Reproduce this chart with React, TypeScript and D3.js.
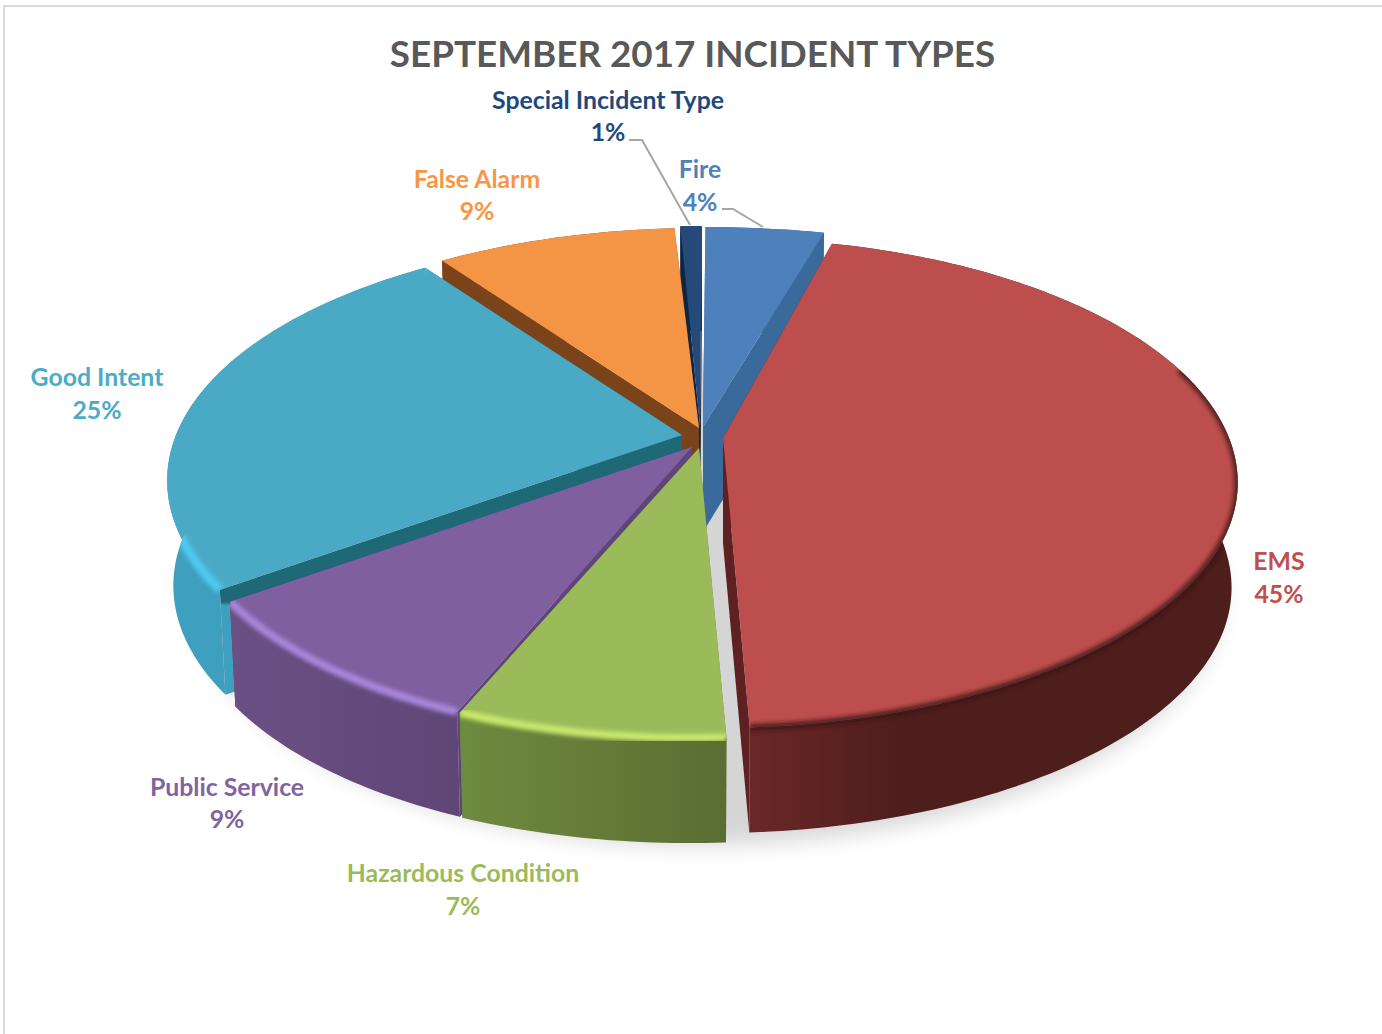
import React, { useMemo } from "react";
import * as d3 from "d3";

// Incident counts, as percentages, clockwise from twelve o'clock.
const categories = ["Fire", "EMS", "Hazardous Condition", "Public Service", "Good Intent", "False Alarm", "Special Incident Type"];
const shares = [4, 45, 7, 9, 25, 9, 1];
const titleText = "SEPTEMBER 2017 INCIDENT TYPES";

// Slice palette.
const labelColors = ["#4f81bd", "#c0504d", "#9bbb59", "#8064a2", "#4bacc6", "#f79646", "#1f497d"];
const topColors = ["#4e80bb", "#bc4f4d", "#9bba5a", "#7f5f9f", "#4aaac6", "#f49546", "#254a7a"];
const wallColors = ["#3a6a9b", "#5f2021", "#6b8540", "#5f4679", "#1f6878", "#7a431a", "#0f2540"];
const rimLeft = ["#3a6a9b", "#6b2727", "#6f8b3e", "#6a5084", "#3f9fbe", "#7a431a", "#0f2540"];
const rimRight = ["#3a6a9b", "#4e1e1d", "#5a6d33", "#5f4677", "#3f9fbe", "#7a431a", "#0f2540"];

// Screen-space explosion of each slice away from the pie's centre.
const offsets: [number, number][] = [[5, -9], [25, 2], [1, 12], [-6, 11], [-16, -1], [1, -8], [2, -10]];
// Horizontal widening of a slice about its own apex.
const widths = [1.11, 1, 1.02, 1, 1, 1, 0.8];

// Soft edge along the front of each top face: colour, start angle in degrees, stroke width, opacity.
const bevels: ([string, number, number, number] | null)[] = [
  null,
  ["#3a1413", 72, 7, 0.8],
  ["#c8e86e", 0, 8, 1],
  ["#a886da", 0, 8, 1],
  ["#4fc8f0", 0, 9, 1],
  null,
  null,
];

// Label placement: text centre and the two baselines.
const labelPlaces: [number, number, number][] = [
  [700, 178, 211],
  [1279, 570, 603],
  [463, 882, 915],
  [227, 796, 828],
  [97, 386, 419],
  [477, 188, 220],
  [608, 109, 141],
];

// Leader lines for the two slices whose labels sit away from them.
const leaders: [number, [number, number][]][] = [
  [0, [[722, 209], [733, 209], [763, 227]]],
  [6, [[629, 140], [642, 140], [690, 225]]],
];

const CX = 698;
const CY = 436;
const RX = 506;
const RY = 236.7;
const TILT = 0.184;
const DEPTH = 105;
const TURN = 0.3 * (Math.PI / 180);
const FRONT_LEAN = 9;
const GOOD_INTENT = 4;
const FONT = "Lato, 'Open Sans', sans-serif";

// Paint order runs from the back of the pie to the front.
const paintOrder = [6, 0, 5, 4, 3, 2, 1];

type Pt = [number, number];

function project(a: number, r: number, z: number, off: Pt, widen = 1): Pt {
  const u = r * Math.sin(a + TURN);
  const v = -r * Math.cos(a + TURN);
  const w = 1 - TILT * v;
  const squeeze = 1 - 0.012 * z;
  const lean = FRONT_LEAN * Math.pow(Math.max(v, 0), 3);
  return [CX + off[0] + (RX * u * squeeze * widen) / w - lean, CY + off[1] + (RY * v) / w + DEPTH * z];
}

function arcPoints(a0: number, a1: number, r: number, z: number, off: Pt, widen = 1): Pt[] {
  const n = Math.max(2, Math.ceil(((a1 - a0) * 180) / Math.PI));
  return d3.range(n + 1).map((i) => project(a0 + ((a1 - a0) * i) / n, r, z, off, widen));
}

const line = d3.line<Pt>();
const closed = (pts: Pt[]) => line(pts) + "Z";

export default function App() {
  const arcs = useMemo(() => d3.pie<number>().sort(null)(shares), []);
  const full = d3.range(0, 361, 3).map((d) => (d * Math.PI) / 180);
  const shadow = closed(full.map((a) => project(a, 1.005, 1, [12, 12])));
  const goodCorner = project(arcs[GOOD_INTENT].startAngle, 1, 0, offsets[GOOD_INTENT]);

  return (
    <svg width={1382} height={1034} style={{ position: "absolute", left: 0, top: 0, background: "#fff" }}>
      <defs>
        <filter id="drop" x="-20%" y="-20%" width="140%" height="140%">
          <feGaussianBlur stdDeviation="11" />
        </filter>
        <filter id="soft" x="-10%" y="-10%" width="120%" height="120%">
          <feGaussianBlur stdDeviation="2.2" />
        </filter>
        {/* The cut wall of the Good Intent slice turns into its rim colour below the corner. */}
        <linearGradient id="goodWall" gradientUnits="userSpaceOnUse" x1={0} x2={0} y1={0} y2={1034}>
          <stop offset={(goodCorner[1] + 12) / 1034} stopColor={wallColors[GOOD_INTENT]} />
          <stop offset={(goodCorner[1] + 16) / 1034} stopColor={rimLeft[GOOD_INTENT]} />
        </linearGradient>
        {paintOrder.map((i) => {
          const { startAngle: a0, endAngle: a1 } = arcs[i];
          const pts = arcPoints(a0, a1, 1, 0, offsets[i], widths[i]);
          const xs = pts.map((p) => p[0]);
          return (
            <React.Fragment key={i}>
              <linearGradient id={`rim${i}`} gradientUnits="userSpaceOnUse" x1={d3.min(xs)} x2={i === 1 ? 900 : d3.max(xs)} y1={0} y2={0}>
                <stop offset="0" stopColor={rimLeft[i]} />
                <stop offset="1" stopColor={rimRight[i]} />
              </linearGradient>
              <clipPath id={`clip${i}`}>
                <path d={closed([...pts, ...arcPoints(a0, a1, 1, 1, offsets[i], widths[i]).reverse()])} />
                <path d={closed([project(0, 0, 0, offsets[i]), ...pts])} />
              </clipPath>
            </React.Fragment>
          );
        })}
      </defs>

      <rect x={4} y={6} width={1382} height={1040} fill="#fff" stroke="#d9d9d9" strokeWidth={2} />
      <path d={shadow} fill="#000" opacity={0.16} filter="url(#drop)" />

      {paintOrder.map((i) => {
        const { startAngle: a0, endAngle: a1 } = arcs[i];
        const off = offsets[i];
        const top = arcPoints(a0, a1, 1, 0, off, widths[i]);
        const low = arcPoints(a0, a1, 1, 1, off, widths[i]);
        const apex = project(0, 0, 0, off);
        const apexLow = project(0, 0, 1, off);
        const bevel = bevels[i];
        const bevelStart = bevel ? Math.max(a0, (bevel[1] * Math.PI) / 180) : 0;
        return (
          <g key={categories[i]}>
            <path d={closed([apex, top[0], low[0], apexLow])} fill={i === GOOD_INTENT ? "url(#goodWall)" : wallColors[i]} />
            <path d={closed([apex, top[top.length - 1], low[low.length - 1], apexLow])} fill={wallColors[i]} />
            <path d={closed([...top, ...[...low].reverse()])} fill={`url(#rim${i})`} />
            <path d={closed([apex, ...top])} fill={topColors[i]} />
            {bevel && (
              <g clipPath={`url(#clip${i})`}>
                <path
                  d={line(arcPoints(bevelStart, a1, 1, 0, off, widths[i])) as string}
                  fill="none"
                  stroke={bevel[0]}
                  strokeWidth={bevel[2]}
                  opacity={bevel[3]}
                  filter="url(#soft)"
                />
              </g>
            )}
          </g>
        );
      })}

      {leaders.map(([i, pts]) => (
        <path key={i} d={line(pts) as string} fill="none" stroke="#a6a6a6" strokeWidth={2} />
      ))}

      <text x={692.5} y={67} textAnchor="middle" fontFamily={FONT} fontWeight={700} fontSize={36.8} fill="#595959">
        {titleText}
      </text>

      {categories.map((name, i) => (
        <g key={name} textAnchor="middle" fontFamily={FONT} fontWeight={700} fontSize={24.8} fill={labelColors[i]}>
          <text x={labelPlaces[i][0]} y={labelPlaces[i][1]}>{name}</text>
          <text x={labelPlaces[i][0]} y={labelPlaces[i][2]}>{shares[i]}%</text>
        </g>
      ))}
    </svg>
  );
}
